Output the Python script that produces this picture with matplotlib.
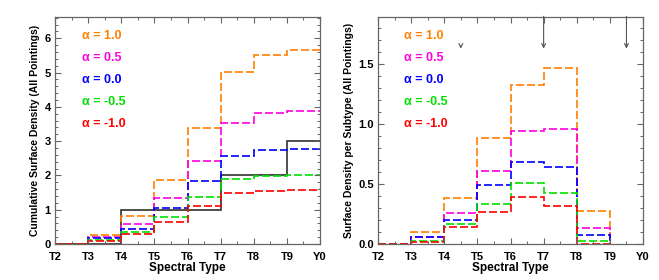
import matplotlib
matplotlib.use('Agg')
import matplotlib.pyplot as plt
import numpy as np

plt.rcParams['font.family'] = ['Liberation Sans', 'DejaVu Sans']
plt.rcParams['font.weight'] = 'bold'
plt.rcParams['axes.labelweight'] = 'bold'

# spectral types along x (bin edges)
types = ["T2", "T3", "T4", "T5", "T6", "T7", "T8", "T9", "Y0"]

alphas = ["1.0", "0.5", "0.0", "-0.5", "-1.0"]
colors = ["#ff8000", "#ff00e0", "#0000ff", "#00e000", "#ff0000"]

# cumulative surface density, bins T2-T3 ... T9-Y0
cum_obs = [0, 0, 1, 1, 1, 2, 2, 3]
cum_a10 = [0, 0.26, 0.82, 1.88, 3.39, 5.03, 5.50, 5.66]
cum_a05 = [0, 0.20, 0.59, 1.33, 2.43, 3.52, 3.81, 3.89]
cum_a00 = [0, 0.17, 0.44, 1.04, 1.84, 2.57, 2.73, 2.77]
cum_am05 = [0, 0.13, 0.35, 0.78, 1.36, 1.91, 1.98, 2.00]
cum_am10 = [0, 0.10, 0.29, 0.63, 1.11, 1.48, 1.55, 1.57]

# surface density per subtype, bins T2-T3 ... T8-T9
sub_a10 = [0, 0.097, 0.384, 0.886, 1.323, 1.470, 0.279]
sub_a05 = [0, 0.056, 0.260, 0.613, 0.939, 0.958, 0.134]
sub_a00 = [0, 0.056, 0.203, 0.493, 0.685, 0.646, 0.075]
sub_am05 = [0, 0.028, 0.167, 0.337, 0.510, 0.426, 0.022]
sub_am10 = [0, 0.020, 0.139, 0.267, 0.393, 0.315, 0.0]

# upper limits drawn as arrows (x in subtype index, T2 = 0)
lim_x = [2.5, 5.0, 7.5]
lim_tip = [1.63, 1.63, 1.63]
lim_start = [1.655, 1.9, 1.9]

cum_models = [cum_a10, cum_a05, cum_a00, cum_am05, cum_am10]
sub_models = [sub_a10, sub_a05, sub_a00, sub_am05, sub_am10]

frame_col = "#666666"
dash = (0, (4.8, 1.8))

fig = plt.figure(figsize=(6.59, 2.80), dpi=100)
ax1 = fig.add_axes([55 / 659, 1 - 244 / 280, 265 / 659, 227 / 280])
ax2 = fig.add_axes([378 / 659, 1 - 244 / 280, 265 / 659, 227 / 280])

edges = np.arange(len(types))

# left: cumulative
ax1.stairs(cum_obs, edges, baseline=None, color="#303030", lw=1.2, clip_on=False)
for vals, c in zip(cum_models, colors):
    ax1.stairs(vals, edges, baseline=None, color=c, lw=1.2, linestyle=dash, clip_on=False)
ax1.set_ylim(0, 6.62)
ax1.set_yticks(np.arange(0, 7, 1))
ax1.set_yticks(np.arange(0, 6.62, 0.2), minor=True)
ax1.set_ylabel("Cumulative Surface Density (All Pointings)", fontsize=7.5, labelpad=3)

# right: per subtype
sub_edges = edges[:len(sub_a10) + 1]
for vals, c in zip(sub_models, colors):
    ax2.stairs(vals, sub_edges, baseline=0, color=c, lw=1.2, linestyle=dash, clip_on=False)
ax2.set_ylim(0, 1.894)
ax2.set_yticks([0, 0.5, 1.0, 1.5])
ax2.set_yticklabels(["0.0", "0.5", "1.0", "1.5"])
ax2.set_yticks(np.arange(0, 1.89, 0.1), minor=True)
ax2.set_ylabel("Surface Density per Subtype (All Pointings)", fontsize=7.5, labelpad=3)
for x, t, s in zip(lim_x, lim_tip, lim_start):
    ax2.annotate("", xy=(x, t), xytext=(x, s), annotation_clip=False,
                 arrowprops=dict(arrowstyle="->", color="#555555", lw=0.8,
                                 shrinkA=0, shrinkB=0, mutation_scale=7))

for ax in (ax1, ax2):
    ax.set_xlim(0, len(types) - 1)
    ax.set_xticks(edges)
    ax.set_xticklabels(types)
    ax.set_xticks(np.arange(0, len(types) - 1, 0.5), minor=True)
    ax.set_xlabel("Spectral Type", fontsize=8.5, labelpad=0)
    ax.tick_params(which="both", direction="in", top=True, right=True,
                   color=frame_col, labelsize=8, pad=3)
    ax.tick_params(axis="x", which="major", pad=6)
    ax.tick_params(which="major", length=4, width=0.8)
    ax.tick_params(which="minor", length=2.2, width=0.7)
    for sp in ax.spines.values():
        sp.set_color(frame_col)
        sp.set_linewidth(0.9)
    for i, (a, c) in enumerate(zip(alphas, colors)):
        ax.text(0.1, 0.915 - i * 0.097, "α = " + a, color=c, fontsize=9,
                transform=ax.transAxes, va="center", ha="left")

fig.savefig("out.png", dpi=100)
